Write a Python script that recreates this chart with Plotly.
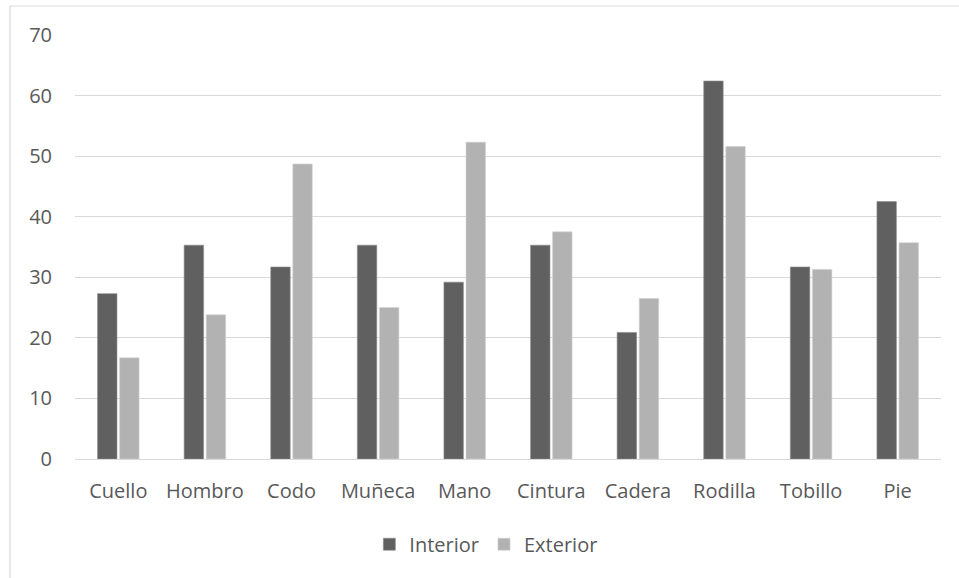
import plotly.graph_objects as go

categories = ["Cuello", "Hombro", "Codo", "Muñeca", "Mano", "Cintura", "Cadera", "Rodilla", "Tobillo", "Pie"]
interior = [27.3, 35.3, 31.7, 35.3, 29.2, 35.3, 20.9, 62.4, 31.7, 42.5]
exterior = [16.7, 23.8, 48.7, 25.0, 52.3, 37.5, 26.5, 51.6, 31.3, 35.7]
y_ticks = [0, 10, 20, 30, 40, 50, 60, 70]

text_color = "#595959"
font_family = "Open Sans, Liberation Sans, sans-serif"
fs = 20

fig = go.Figure()
fig.add_trace(go.Bar(name="Interior", x=categories, y=interior,
                     marker=dict(color="#606060", line=dict(color="#8c8c8c", width=0.6))))
fig.add_trace(go.Bar(name="Exterior", x=categories, y=exterior,
                     marker=dict(color="#b2b2b2", line=dict(color="#d0d0d0", width=0.6))))

fig.update_layout(
    width=959, height=578,
    margin=dict(l=75, r=18, t=35, b=119),
    paper_bgcolor="white", plot_bgcolor="white",
    barmode="group", bargap=0.49, bargroupgap=0.12,
    font=dict(family=font_family, size=fs, color=text_color),
    showlegend=True,
    legend=dict(orientation="h", x=0.475, xanchor="center", y=-0.155, yanchor="top",
                font=dict(size=fs, color=text_color), itemwidth=30, traceorder="normal"),
    shapes=[dict(type="rect", xref="paper", yref="paper",
                 x0=(10 - 75) / 866, x1=(1000 - 75) / 866,
                 y0=-0.5, y1=1 + (35 - 6) / 424,
                 line=dict(color="#d9d9d9", width=1.2), fillcolor="rgba(0,0,0,0)", layer="below")],
)
fig.update_yaxes(range=[0, 70], tickvals=y_ticks, showgrid=True, gridcolor="#d9d9d9",
                 gridwidth=1.2, zeroline=False, showline=False, ticks="", ticklabelstandoff=22,
                 tickfont=dict(size=fs, color=text_color))
fig.update_xaxes(showgrid=False, showline=True, linecolor="#d9d9d9", linewidth=1.2,
                 ticks="", ticklabelstandoff=14, tickfont=dict(size=fs, color=text_color))

fig.write_html("out.html", config={"displayModeBar": False},
               post_script="document.body.style.margin='0';document.body.style.overflow='hidden';")
